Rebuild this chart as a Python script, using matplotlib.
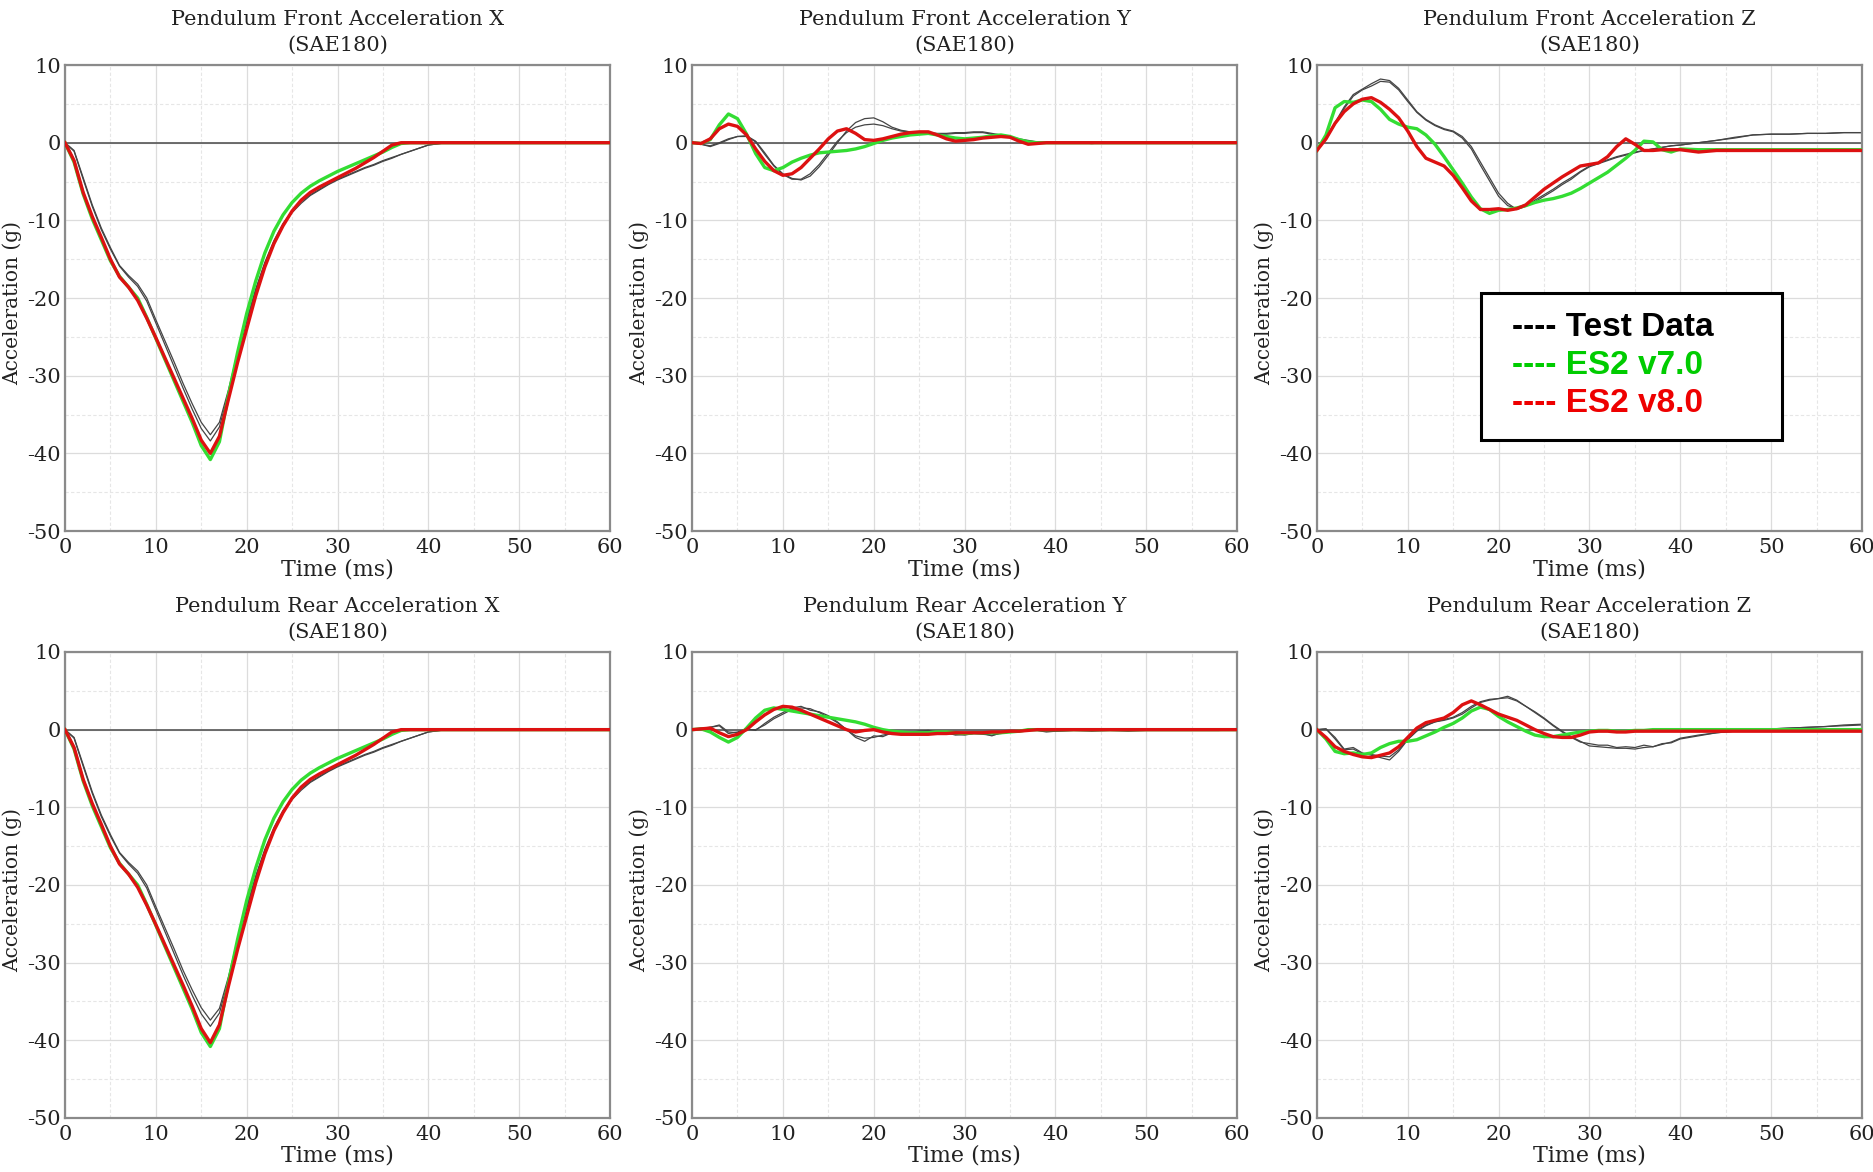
import matplotlib
matplotlib.use("Agg")
import matplotlib.pyplot as plt
from matplotlib.patches import Rectangle
from matplotlib.ticker import MultipleLocator

plt.rcParams['font.family'] = 'DejaVu Serif'
plt.rcParams['axes.unicode_minus'] = False

# time grid (ms): every 1 ms up to 40, then every 2 ms
time_ms = list(range(0, 41)) + list(range(42, 61, 2))

# Pendulum Front Acceleration X
front_x_test1 = [0, -1.0, -4.5, -8.0, -11.0, -13.5, -15.8, -17.1, -18.2, -20.0,
                 -22.8, -25.5, -28.2, -31.0, -33.6, -36.0, -37.6, -36.0, -31.8, -27.0,
                 -22.8, -18.8, -15.4, -12.6, -10.4, -8.8, -7.6, -6.7, -6.0, -5.3,
                 -4.7, -4.2, -3.7, -3.2, -2.8, -2.3, -1.9, -1.5, -1.1, -0.7,
                 -0.3, 0, 0, 0, 0, 0, 0, 0, 0, 0, 0]
front_x_test2 = [0, -1.1, -4.7, -8.2, -11.2, -13.7, -15.9, -17.3, -18.5, -20.4,
                 -23.2, -26.0, -28.8, -31.6, -34.3, -36.8, -38.4, -36.6, -32.2, -27.4,
                 -23.1, -19.0, -15.6, -12.8, -10.6, -9.0, -7.8, -6.8, -6.1, -5.4,
                 -4.8, -4.3, -3.8, -3.3, -2.9, -2.4, -2.0, -1.5, -1.1, -0.7,
                 -0.3, 0, 0, 0, 0, 0, 0, 0, 0, 0, 0]
front_x_v7 = [0, -2.5, -6.6, -9.8, -12.5, -15.2, -17.2, -18.6, -20.0, -22.5,
              -25.2, -27.9, -30.6, -33.3, -36.0, -39.0, -40.8, -38.5, -32.5, -27.0,
              -22.0, -17.8, -14.2, -11.4, -9.3, -7.7, -6.5, -5.6, -4.9, -4.3,
              -3.7, -3.2, -2.7, -2.2, -1.7, -1.2, -0.6, -0.1, 0, 0,
              0, 0, 0, 0, 0, 0, 0, 0, 0, 0, 0]
front_x_v8 = [0, -2.3, -6.4, -9.5, -12.2, -15.0, -17.3, -18.6, -20.3, -22.6,
              -25.1, -27.7, -30.3, -32.9, -35.5, -38.3, -40.0, -37.8, -33.0, -28.3,
              -24.0, -19.7, -16.0, -13.0, -10.7, -8.8, -7.4, -6.4, -5.7, -5.1,
              -4.5, -3.9, -3.3, -2.6, -1.9, -1.1, -0.3, 0, 0, 0,
              0, 0, 0, 0, 0, 0, 0, 0, 0, 0, 0]

# Pendulum Front Acceleration Y
front_y_test1 = [0, -0.2, -0.5, -0.1, 0.4, 0.8, 0.9, 0.2, -1.3, -2.9,
                 -4.0, -4.6, -4.8, -4.3, -3.1, -1.6, 0.0, 1.5, 2.6, 3.1,
                 3.2, 2.7, 2.0, 1.6, 1.4, 1.3, 1.3, 1.2, 1.2, 1.3,
                 1.3, 1.4, 1.4, 1.2, 1.0, 0.8, 0.5, 0.3, 0.1, 0.0,
                 0, 0, -0.1, 0, 0, 0, 0, 0, 0, 0, 0]
front_y_test2 = [0, -0.2, -0.4, 0.0, 0.5, 0.8, 0.8, 0.1, -1.5, -3.0,
                 -4.1, -4.7, -4.7, -4.0, -2.8, -1.3, 0.2, 1.3, 2.0, 2.3,
                 2.4, 2.2, 1.8, 1.5, 1.4, 1.3, 1.2, 1.1, 1.1, 1.2,
                 1.2, 1.3, 1.3, 1.1, 0.9, 0.7, 0.4, 0.2, 0.1, 0.0,
                 0, 0, -0.1, 0, 0, 0, 0, 0, 0, 0, 0]
front_y_v7 = [0, -0.1, 0.4, 2.3, 3.7, 3.1, 1.1, -1.4, -3.2, -3.6,
              -3.2, -2.5, -2.0, -1.6, -1.3, -1.2, -1.1, -1.0, -0.8, -0.5,
              -0.1, 0.3, 0.6, 0.8, 1.0, 1.1, 1.2, 1.0, 0.8, 0.6,
              0.5, 0.6, 0.7, 0.9, 1.0, 0.8, 0.4, 0.1, 0.0, 0.0,
              0, 0, 0, 0, 0, 0, 0, 0, 0, 0, 0]
front_y_v8 = [0, -0.1, 0.5, 1.8, 2.4, 2.1, 1.0, -0.8, -2.4, -3.6,
              -4.2, -4.0, -3.2, -2.0, -0.8, 0.5, 1.5, 1.8, 1.2, 0.4,
              0.3, 0.5, 0.8, 1.1, 1.3, 1.4, 1.4, 1.0, 0.5, 0.2,
              0.3, 0.4, 0.6, 0.7, 0.8, 0.7, 0.2, -0.2, -0.1, 0.0,
              0, 0, 0, 0, 0, 0, 0, 0, 0, 0, 0]

# Pendulum Front Acceleration Z
front_z_test1 = [-1.0, 0.5, 2.6, 4.6, 6.2, 6.9, 7.6, 8.2, 8.0, 7.0,
                 5.5, 4.0, 3.0, 2.3, 1.8, 1.5, 0.8, -0.5, -2.5, -4.5,
                 -6.5, -7.8, -8.6, -8.2, -7.4, -6.7, -6.0, -5.2, -4.5, -3.7,
                 -3.0, -2.6, -2.2, -1.8, -1.5, -1.2, -1.0, -0.8, -0.6, -0.4,
                 -0.3, 0.0, 0.3, 0.7, 1.0, 1.1, 1.1, 1.2, 1.2, 1.3, 1.3]
front_z_test2 = [-1.0, 0.4, 2.4, 4.4, 6.0, 6.8, 7.3, 7.9, 7.8, 6.8,
                 5.3, 3.9, 2.9, 2.2, 1.7, 1.4, 0.6, -0.8, -2.9, -4.9,
                 -6.9, -8.1, -8.5, -8.0, -7.6, -6.9, -6.2, -5.4, -4.7, -3.8,
                 -3.1, -2.7, -2.3, -1.9, -1.6, -1.3, -1.0, -0.8, -0.6, -0.4,
                 -0.3, 0.0, 0.3, 0.6, 1.0, 1.1, 1.1, 1.2, 1.2, 1.3, 1.3]
front_z_v7 = [-1.0, 1.0, 4.5, 5.3, 5.2, 5.5, 5.3, 4.3, 3.0, 2.4,
              2.0, 1.8, 1.0, -0.2, -1.8, -3.5, -5.2, -7.0, -8.5, -9.1,
              -8.7, -8.6, -8.4, -8.1, -7.7, -7.4, -7.2, -6.9, -6.5, -5.9,
              -5.2, -4.5, -3.8, -2.9, -2.0, -1.0, 0.2, 0.1, -0.9, -1.2,
              -0.8, -0.9, -0.9, -0.9, -0.9, -0.9, -0.9, -0.9, -0.9, -0.9, -0.9]
front_z_v8 = [-1.0, 0.5, 2.5, 4.0, 5.0, 5.6, 5.8, 5.2, 4.3, 3.2,
              1.5, -0.5, -2.0, -2.5, -3.0, -4.2, -5.8, -7.5, -8.6, -8.6,
              -8.5, -8.7, -8.5, -8.0, -7.0, -6.0, -5.2, -4.4, -3.7, -3.0,
              -2.8, -2.6, -1.8, -0.5, 0.5, -0.2, -1.0, -1.0, -0.9, -0.9,
              -0.9, -1.2, -1.0, -1.0, -1.0, -1.0, -1.0, -1.0, -1.0, -1.0, -1.0]

# Pendulum Rear Acceleration X
rear_x_test1 = [0, -1.0, -4.5, -8.0, -11.0, -13.5, -15.8, -17.1, -18.2, -20.0,
                -22.8, -25.5, -28.2, -31.0, -33.5, -35.8, -37.4, -35.9, -31.8, -27.0,
                -22.8, -18.8, -15.4, -12.6, -10.4, -8.8, -7.6, -6.7, -6.0, -5.3,
                -4.7, -4.2, -3.7, -3.2, -2.8, -2.3, -1.9, -1.5, -1.1, -0.7,
                -0.3, 0, 0, 0, 0, 0, 0, 0, 0, 0, 0]
rear_x_test2 = [0, -1.1, -4.7, -8.2, -11.2, -13.7, -15.9, -17.3, -18.5, -20.4,
                -23.2, -26.0, -28.8, -31.6, -34.2, -36.6, -38.2, -36.5, -32.2, -27.4,
                -23.1, -19.0, -15.6, -12.8, -10.6, -9.0, -7.8, -6.8, -6.1, -5.4,
                -4.8, -4.3, -3.8, -3.3, -2.9, -2.4, -2.0, -1.5, -1.1, -0.7,
                -0.3, 0, 0, 0, 0, 0, 0, 0, 0, 0, 0]
rear_x_v7 = [0, -2.5, -6.6, -9.8, -12.5, -15.2, -17.2, -18.6, -20.0, -22.5,
             -25.2, -27.9, -30.6, -33.3, -36.0, -39.0, -40.8, -38.5, -32.5, -27.0,
             -22.0, -17.8, -14.2, -11.4, -9.3, -7.7, -6.5, -5.6, -4.9, -4.3,
             -3.7, -3.2, -2.7, -2.2, -1.7, -1.2, -0.6, -0.1, 0, 0,
             0, 0, 0, 0, 0, 0, 0, 0, 0, 0, 0]
rear_x_v8 = [0, -2.3, -6.4, -9.5, -12.2, -15.0, -17.3, -18.6, -20.3, -22.6,
             -25.1, -27.7, -30.3, -32.9, -35.6, -38.5, -40.3, -38.0, -33.0, -28.3,
             -24.0, -19.7, -16.0, -13.0, -10.7, -8.8, -7.4, -6.4, -5.7, -5.1,
             -4.5, -3.9, -3.3, -2.6, -1.9, -1.1, -0.3, 0, 0, 0,
             0, 0, 0, 0, 0, 0, 0, 0, 0, 0, 0]

# Pendulum Rear Acceleration Y
rear_y_test1 = [0, 0.2, 0.3, 0.5, -0.5, -0.3, 0.1, -0.1, 0.8, 1.6,
                2.2, 2.8, 3.0, 2.5, 2.3, 1.8, 1.0, 0.0, -1.0, -1.5,
                -0.8, -0.9, -0.4, -0.3, -0.4, -0.2, -0.1, -0.3, -0.5, -0.6,
                -0.7, -0.5, -0.5, -0.8, -0.4, -0.3, -0.2, -0.1, -0.1, -0.3,
                -0.2, -0.1, -0.2, -0.1, -0.2, -0.1, -0.1, -0.1, -0.1, -0.1, 0.0]
rear_y_test2 = [0, 0.1, 0.3, 0.6, -0.3, -0.4, 0.0, 0.0, 0.6, 1.4,
                2.0, 2.6, 2.8, 2.7, 2.2, 1.6, 0.9, 0.0, -0.8, -1.1,
                -1.0, -0.7, -0.5, -0.3, -0.3, -0.2, -0.2, -0.3, -0.4, -0.7,
                -0.6, -0.5, -0.6, -0.7, -0.5, -0.3, -0.2, -0.1, -0.1, -0.2,
                -0.2, -0.1, -0.1, -0.1, -0.1, -0.1, -0.1, -0.1, -0.1, -0.1, 0.0]
rear_y_v7 = [0, 0.1, -0.3, -1.0, -1.6, -1.0, 0.2, 1.5, 2.5, 2.8,
             2.6, 2.4, 2.2, 2.0, 1.8, 1.6, 1.4, 1.2, 1.0, 0.7,
             0.3, 0.0, -0.2, -0.3, -0.4, -0.4, -0.4, -0.3, -0.3, -0.4,
             -0.5, -0.4, -0.4, -0.4, -0.4, -0.3, -0.2, 0.0, 0.0, 0.0,
             0, 0, 0, 0, 0, 0, 0, 0, 0, 0, 0]
rear_y_v8 = [0, 0.1, 0.2, -0.4, -0.9, -0.6, 0.0, 1.0, 1.9, 2.6,
             3.0, 2.9, 2.5, 2.0, 1.5, 1.0, 0.5, 0.0, -0.3, -0.1,
             0.0, -0.3, -0.5, -0.6, -0.6, -0.6, -0.6, -0.5, -0.5, -0.4,
             -0.4, -0.4, -0.4, -0.3, -0.3, -0.2, -0.2, -0.1, 0.0, 0.0,
             0, 0, 0, 0, 0, 0, 0, 0, 0, 0, 0]

# Pendulum Rear Acceleration Z
rear_z_test1 = [0, 0.1, -1.0, -2.5, -2.3, -3.0, -3.3, -3.6, -3.9, -2.8,
                -1.3, -0.2, 0.5, 1.0, 1.2, 1.5, 2.0, 2.8, 3.5, 3.8,
                4.0, 4.3, 3.8, 3.0, 2.2, 1.4, 0.5, -0.3, -1.0, -1.6,
                -1.8, -2.0, -2.0, -2.3, -2.2, -2.3, -2.0, -2.2, -1.8, -1.7,
                -1.2, -0.8, -0.4, -0.2, 0.0, 0.1, 0.2, 0.3, 0.4, 0.6, 0.7]
rear_z_test2 = [0, 0.1, -1.2, -2.6, -2.5, -3.1, -3.2, -3.4, -3.5, -2.6,
                -1.2, -0.1, 0.6, 1.0, 1.3, 1.6, 2.2, 3.0, 3.6, 3.9,
                4.0, 4.1, 3.7, 3.0, 2.3, 1.5, 0.6, -0.2, -0.9, -1.5,
                -2.1, -2.2, -2.3, -2.4, -2.4, -2.5, -2.3, -2.2, -1.9, -1.6,
                -1.1, -0.7, -0.4, -0.2, 0.0, 0.1, 0.2, 0.3, 0.4, 0.5, 0.6]
rear_z_v7 = [0, -1.2, -2.8, -3.1, -3.0, -3.2, -3.0, -2.3, -1.8, -1.5,
             -1.5, -1.3, -0.8, -0.3, 0.3, 0.8, 1.5, 2.4, 2.9, 2.6,
             1.7, 1.0, 0.4, -0.2, -0.7, -0.9, -0.9, -0.7, -0.5, -0.3,
             -0.2, -0.1, -0.1, -0.2, -0.2, -0.1, -0.1, 0.0, 0.0, 0.0,
             0, 0, 0, 0, 0, 0, 0, 0, 0, 0, 0]
rear_z_v8 = [0, -1.0, -2.2, -2.8, -3.2, -3.5, -3.6, -3.3, -3.0, -2.2,
             -1.0, 0.2, 0.9, 1.2, 1.5, 2.2, 3.2, 3.7, 3.2, 2.6,
             2.0, 1.6, 1.2, 0.6, 0.0, -0.5, -0.9, -1.0, -1.0, -0.7,
             -0.3, -0.2, -0.2, -0.3, -0.3, -0.2, -0.2, -0.2, -0.2, -0.2,
             -0.2, -0.2, -0.2, -0.2, -0.2, -0.2, -0.2, -0.2, -0.2, -0.2, -0.2]

titles = ["Pendulum Front Acceleration X", "Pendulum Front Acceleration Y",
          "Pendulum Front Acceleration Z", "Pendulum Rear Acceleration X",
          "Pendulum Rear Acceleration Y", "Pendulum Rear Acceleration Z"]
panels = [
    (front_x_test1, front_x_test2, front_x_v7, front_x_v8),
    (front_y_test1, front_y_test2, front_y_v7, front_y_v8),
    (front_z_test1, front_z_test2, front_z_v7, front_z_v8),
    (rear_x_test1, rear_x_test2, rear_x_v7, rear_x_v8),
    (rear_y_test1, rear_y_test2, rear_y_v7, rear_y_v8),
    (rear_z_test1, rear_z_test2, rear_z_v7, rear_z_v8),
]
legend_labels = ["---- Test Data", "---- ES2 v7.0", "---- ES2 v8.0"]
legend_colors = ["black", "#00cc00", "#ee0000"]

fig = plt.figure(figsize=(18.73, 11.72), dpi=100)

col_x = [0.0347, 0.3695, 0.7031]
row_y = [0.5469, 0.0461]
ax_w, ax_h = 0.291, 0.3976

axes = []
for i in range(6):
    r, c = divmod(i, 3)
    ax = fig.add_axes([col_x[c], row_y[r], ax_w, ax_h])
    axes.append(ax)
    test1, test2, v7, v8 = panels[i]

    ax.set_xlim(0, 60)
    ax.set_ylim(-50, 10)
    ax.xaxis.set_major_locator(MultipleLocator(10))
    ax.yaxis.set_major_locator(MultipleLocator(10))
    ax.xaxis.set_minor_locator(MultipleLocator(5))
    ax.yaxis.set_minor_locator(MultipleLocator(5))
    ax.grid(which='major', color='#dcdcdc', lw=0.9)
    ax.grid(which='minor', color='#e6e6e6', lw=0.8, ls=(0, (3, 2)))
    ax.set_axisbelow(True)
    ax.tick_params(which='both', length=0, labelsize=15, colors='#222222')
    ax.tick_params(axis='y', pad=3)
    ax.tick_params(axis='x', pad=5)
    for s in ax.spines.values():
        s.set_color('#8a8a8a')
        s.set_linewidth(1.6)

    ax.axhline(0, color='#555555', lw=1.2, zorder=1)
    ax.plot(time_ms, test1, color='#444444', lw=0.9, zorder=2)
    ax.plot(time_ms, test2, color='#444444', lw=0.9, zorder=2)
    ax.plot(time_ms, v7, color='#33dd33', lw=2.4, zorder=3)
    ax.plot(time_ms, v8, color='#dd1111', lw=2.4, zorder=4)

    ax.set_title(titles[i] + "\n(SAE180)", fontsize=15, pad=10, linespacing=1.45,
                 color='#222222')
    ax.set_xlabel("Time (ms)", fontsize=16, color='#222222')
    ax.set_ylabel("Acceleration (g)", fontsize=14.5, color='#222222')
    ax.xaxis.set_label_coords(0.5, -0.058)
    ax.yaxis.set_label_coords(-0.078, 0.49)

# legend box in the Front Z panel
lax = axes[2]
lax.add_patch(Rectangle((0.301, 0.195), 0.553, 0.315, transform=lax.transAxes,
                        facecolor='white', edgecolor='black', lw=2.2, zorder=10))
for k, (lab, col) in enumerate(zip(legend_labels, legend_colors)):
    lax.text(0.358, 0.436 - k * 0.0815, lab, transform=lax.transAxes, color=col,
             fontsize=24, fontweight='bold', family='Liberation Sans',
             va='center', ha='left', zorder=11)

fig.savefig("out.png", dpi=100)
